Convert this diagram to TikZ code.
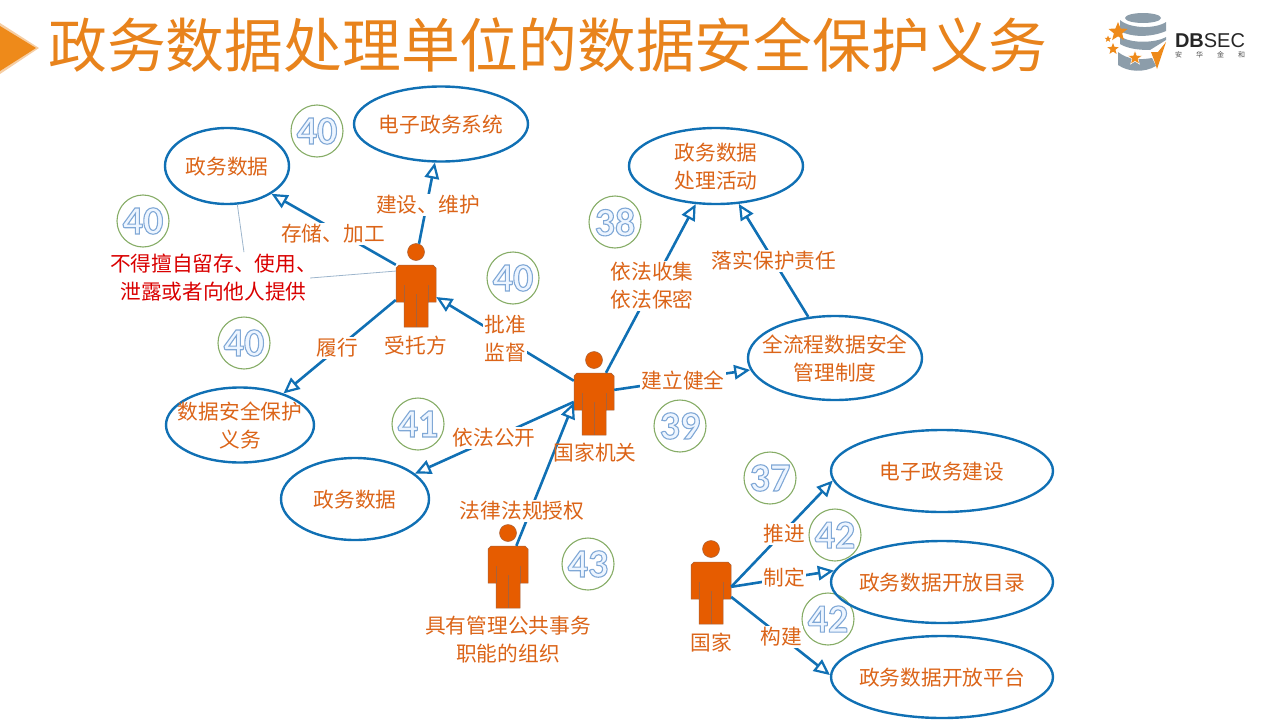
\documentclass[tikz,border=0pt]{standalone}
\usepackage{fontspec}
\setmainfont{Noto Sans CJK SC}
\newfontfamily\numfont{Carlito}
\newfontfamily\logofont{Liberation Sans}
\usetikzlibrary{arrows.meta,shapes.geometric}
\definecolor{linkblue}{HTML}{1070B4}
\definecolor{thinblue}{HTML}{9DB5CC}
\definecolor{labelor}{HTML}{DB6418}
\definecolor{figor}{HTML}{E65C00}
\definecolor{figedge}{HTML}{A8623A}
\definecolor{titleor}{HTML}{E8831C}
\definecolor{ringgreen}{HTML}{86AC66}
\definecolor{logogrey}{HTML}{8C9DAA}
\definecolor{staror}{HTML}{EE8A1A}
\newcommand{\outlined}[1]{\special{pdf:code q 2 Tr 1.1 w 0.50 0.66 0.84 RG 0.93 0.96 1 rg}#1\special{pdf:code Q}}
\newcommand{\ovaltext}[1]{\makebox[0pt][c]{\raisebox{-8pt}[0pt][0pt]{\begin{tabular}{@{}c@{}}#1\end{tabular}}}}
\tikzset{
  x=1pt,y=-1pt,
  oval/.style={ellipse,draw=linkblue,line width=2.4pt,inner sep=0pt,text=labelor,font=\fontsize{20.7}{28}\selectfont},
  conn/.style={draw=linkblue,line width=2.6pt,-{Triangle[open,fill=white,length=16pt,width=14.5pt,line width=2.2pt]}},
  thinl/.style={draw=thinblue,line width=0.8pt},
  lab/.style={fill=white,inner sep=1.5pt,align=center,text=labelor,font=\fontsize{20.7}{28}\selectfont},
  plain/.style={inner sep=0pt,align=center,text=labelor,font=\fontsize{20.7}{28}\selectfont},
  ring/.style={circle,draw=ringgreen,line width=1.1pt,minimum size=52pt,inner sep=0pt,font=\numfont\bfseries\fontsize{40}{40}\selectfont},
  bodyn/.style={rectangle,inner sep=0pt,minimum width=40pt,minimum height=62pt},
  headn/.style={circle,fill=figor,draw=figedge,line width=0.5pt,inner sep=0pt,minimum size=17pt},
  lstar/.style={star,star points=5,star point ratio=2.3,fill=staror,draw=none,inner sep=0pt},
}
% #1 name, #2 centre x, #3 top of body y
\newcommand{\person}[3]{%
  \node[bodyn] (#1) at (#2,#3+31) {};
  \node[headn] (#1head) at (#2,#3-13) {};
  \begin{scope}[shift={(#2,#3)}]
    \fill[figor,draw=figedge,line width=0.5pt]
      (-20,37) -- (-20,3) -- (-17,0) -- (17,0) -- (20,3) -- (20,37) -- (12,37) -- (12,62) -- (-12,62) -- (-12,37) -- cycle;
    \draw[figedge,line width=0.7pt] (0,29) -- (0,62) (-12,20) -- (-12,37) (12,20) -- (12,37);
  \end{scope}%
}
\begin{document}
\begin{tikzpicture}
\useasboundingbox (0,0) rectangle (1280,720);
% title
\fill[titleor!40!white] (0,23) -- (39,48) -- (0,74) -- cycle;
\fill[staror] (0,26) -- (36,48) -- (0,71) -- cycle;
\node[inner sep=0pt,text=titleor,font=\fontsize{58.8}{60}\selectfont] (title) at (548,44.5) {政务数据处理单位的数据安全保护义务};
% logo
\fill[logogrey] (1143,18) ellipse (18 and 5);
\fill[logogrey] (1120,20) .. controls (1130,29) and (1156,29) .. (1166,22) -- (1166,31) .. controls (1150,38) and (1130,37) .. (1120,31) -- cycle;
\fill[logogrey] (1120,36) .. controls (1130,44) and (1156,43) .. (1166,37) -- (1166,40) -- (1150,50) .. controls (1140,50) and (1128,49) .. (1120,44) -- cycle;
\fill[logogrey] (1118,52) .. controls (1128,60) and (1140,60) .. (1152,58) -- (1156,66) .. controls (1144,73) and (1128,72) .. (1118,65) -- cycle;
\node[lstar,minimum size=20pt] (ls1) at (1118,32) {};
\node[lstar,minimum size=7pt] (ls2) at (1108,39) {};
\node[lstar,minimum size=12pt] (ls3) at (1113,49) {};
\node[lstar,minimum size=15pt,draw=white,line width=0.5pt] (ls4) at (1135,58) {};
\fill[staror] (1166,42) -- (1157,69) -- (1154,60) -- (1151,52) -- (1158,52) -- cycle;
\node[inner sep=0pt,text=black!85,font=\logofont\fontsize{20}{20}\selectfont] (logotext) at (1210,41) {\textbf{DB}SEC};
\node[inner sep=0pt,text=black!70,font=\fontsize{7}{7}\selectfont] (logosub) at (1210,55) {安\hspace{14pt}华\hspace{14pt}金\hspace{14pt}和};
% number rings
\node[ring] (r1) at (317,131) {\outlined{40}};
\node[ring] (r2) at (143,221) {\outlined{40}};
\node[ring] (r3) at (244,343) {\outlined{40}};
\node[ring] (r4) at (513,278) {\outlined{40}};
\node[ring] (r5) at (615,222) {\outlined{38}};
\node[ring] (r6) at (680,426) {\outlined{39}};
\node[ring] (r7) at (418,424) {\outlined{41}};
\node[ring] (r8) at (770,478) {\outlined{37}};
\node[ring] (r9) at (835,535) {\outlined{42}};
\node[ring] (r10) at (828,619) {\outlined{42}};
\node[ring] (r11) at (588,564) {\outlined{43}};
% ellipses
\node[oval,minimum width=174pt,minimum height=75pt] (sys) at (441,124) {\ovaltext{电子政务系统}};
\node[oval,minimum width=124pt,minimum height=76pt] (data) at (227,166) {\ovaltext{政务数据}};
\node[oval,minimum width=174pt,minimum height=76pt] (act) at (716,166) {\ovaltext{政务数据\\处理活动}};
\node[oval,minimum width=174pt,minimum height=84pt] (flow) at (835,358) {\ovaltext{全流程数据安全\\管理制度}};
\node[oval,minimum width=148pt,minimum height=75pt] (duty) at (240,425) {\ovaltext{数据安全保护\\义务}};
\node[oval,minimum width=148pt,minimum height=82pt] (data2) at (355,499) {\ovaltext{政务数据}};
\node[oval,minimum width=222pt,minimum height=82pt] (build) at (942,471) {\ovaltext{电子政务建设}};
\node[oval,minimum width=222pt,minimum height=82pt] (cat) at (942,582) {\ovaltext{政务数据开放目录}};
\node[oval,minimum width=222pt,minimum height=82pt] (plat) at (942,677) {\ovaltext{政务数据开放平台}};
% note text
\node[inner sep=0pt,align=center,text=red!85!black,font=\fontsize{20.7}{28}\selectfont] (note) at (213.5,278) {不得擅自留存、使用、\\泄露或者向他人提供};
% people anchors
\person{trust}{416}{265}
\person{org}{594}{373}
\person{pub}{508}{546}
\person{state}{711}{562}
% thin leaders
\draw[thinl] (data.-75) -- ([yshift=2pt]note.38);
\draw[thinl] (trust.129) -- ([xshift=-7pt]note.east);
% connectors
\draw[conn] (trust.north west) -- (data.-32);
\draw[conn] (trusthead.70) -- (sys.261);
\draw[conn] (trust.191) -- (duty.36);
\draw[conn] (org.131) -- (trust.-3);
\draw[conn] (org.69) -- (act.242);
\draw[conn] (flow.123) -- (act.-59);
\draw[conn] (org.35) -- (flow.188);
\draw[conn] (org.174) -- (data2.23);
\draw[conn] (pub.75) -- (org.176);
\draw[conn] (state.17) -- (build.185);
\draw[conn] (state.17) -- (cat.174);
\draw[conn] (state.-11) -- (plat.179);
% connector labels
\node[lab] (l1) at (333,234) {存储、加工};
\node[lab] (l2) at (428,205) {建设、维护};
\node[lab] (l3) at (337,348) {履行};
\node[lab] (l4) at (505,339) {批准\\监督};
\node[lab] (l5) at (652,286) {依法收集\\依法保密};
\node[lab] (l6) at (774,261) {落实保护责任};
\node[lab] (l7) at (683,381) {建立健全};
\node[lab] (l8) at (494,438) {依法公开};
\node[lab] (l9) at (522,511) {法律法规授权};
\node[lab] (l10) at (784,534) {推进};
\node[lab] (l11) at (784,578) {制定};
\node[lab] (l12) at (781,637) {构建};
% people labels
\node[plain] (n1) at (416,346) {受托方};
\node[plain] (n2) at (595,453) {国家机关};
\node[plain] (n3) at (508,640) {具有管理公共事务\\职能的组织};
\node[plain] (n4) at (711,643) {国家};
\end{tikzpicture}
\end{document}
